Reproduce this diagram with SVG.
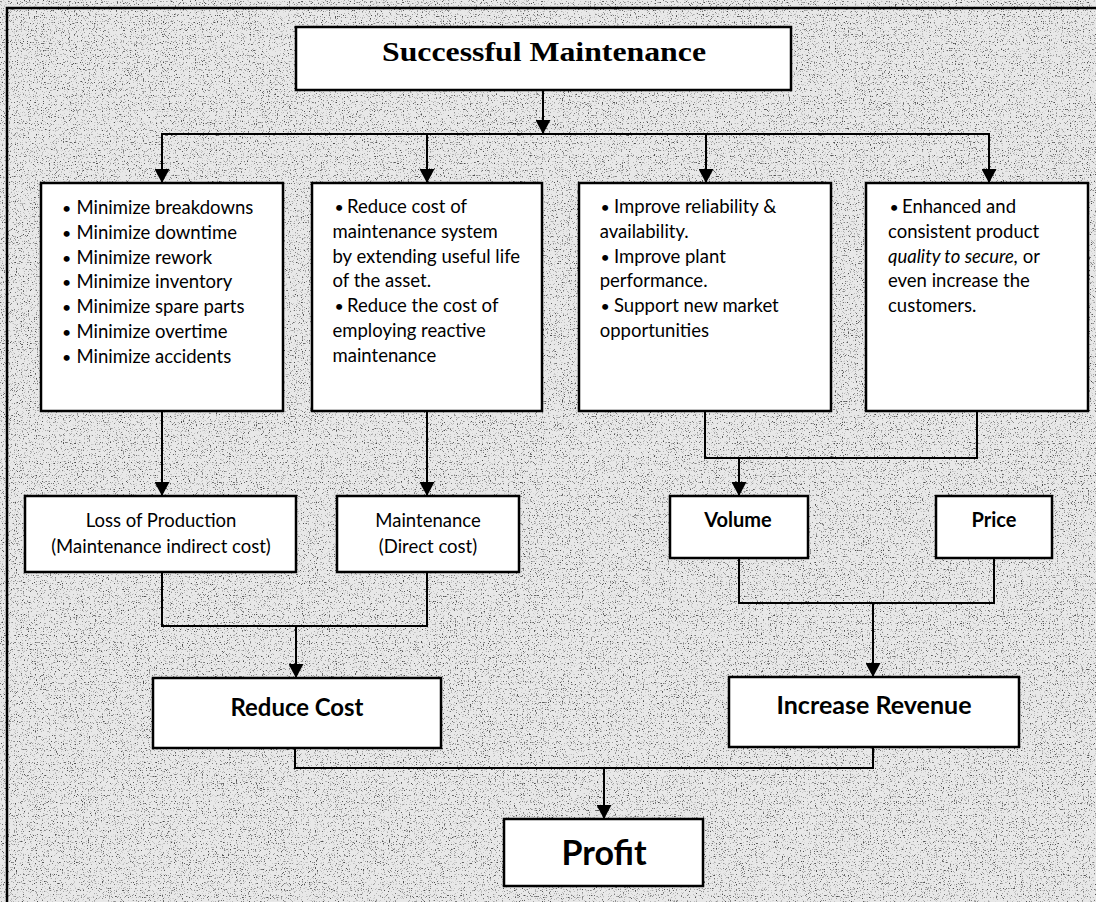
<svg xmlns="http://www.w3.org/2000/svg" width="1096" height="902" viewBox="0 0 1096 902">
  <defs>
    <!-- speckled paper texture -->
    <filter id="grain" x="0" y="0" width="1096" height="902" filterUnits="userSpaceOnUse" color-interpolation-filters="sRGB">
      <feTurbulence type="fractalNoise" baseFrequency="0.85" numOctaves="2" seed="11"/>
      <feColorMatrix type="matrix" values="0 0 0 0 0.3  0 0 0 0 0.3  0 0 0 0 0.3  5 0 0 0 -2.95"/>
    </filter>
    <marker id="arrow" viewBox="0 0 14 15" refX="14" refY="7.5" markerWidth="14" markerHeight="15" markerUnits="userSpaceOnUse" orient="auto">
      <path d="M0,0 L14,7.5 L0,15 Z" fill="#000"/>
    </marker>
    <style>
      .box { fill: #ffffff; stroke: #000000; stroke-width: 2.5; }
      .wire { fill: none; stroke: #000000; stroke-width: 2; }
      .arrow { fill: none; stroke: #000000; stroke-width: 2; marker-end: url(#arrow); }
      .t { font-family: Lato, "Liberation Sans", sans-serif; font-size: 18.5px; fill: #000000; }
      .dot { font-size: 16px; }
      .c { text-anchor: middle; }
      .b { font-weight: bold; }
      .title { font-family: "Liberation Serif", "Times New Roman", serif; font-weight: bold; font-size: 28px; text-anchor: middle; fill: #000000; }
    </style>
  </defs>

  <!-- background -->
  <rect x="0" y="0" width="1096" height="902" fill="#e8e8e8"/>
  <rect x="0" y="0" width="1096" height="902" fill="#000" filter="url(#grain)"/>

  <!-- outer frame (top and left edges) -->
  <path class="wire" d="M7,902 V8 H1096" style="stroke-width:2.5"/>

  <g id="connectors">
    <line class="arrow" x1="543" y1="90" x2="543" y2="134"/>
    <line class="wire" x1="161" y1="134" x2="990" y2="134"/>
    <line class="arrow" x1="162" y1="134" x2="162" y2="183"/>
    <line class="arrow" x1="427" y1="134" x2="427" y2="183"/>
    <line class="arrow" x1="706" y1="134" x2="706" y2="183"/>
    <line class="arrow" x1="989" y1="134" x2="989" y2="183"/>

    <line class="arrow" x1="162" y1="411" x2="162" y2="496"/>
    <line class="arrow" x1="427" y1="411" x2="427" y2="496"/>

    <path class="wire" d="M705,410 V458 H977 V410"/>
    <line class="arrow" x1="739" y1="458" x2="739" y2="496"/>

    <path class="wire" d="M162,572 V626 H427 V572"/>
    <line class="arrow" x1="296" y1="626" x2="296" y2="678"/>

    <path class="wire" d="M739,558 V603 H994 V558"/>
    <line class="arrow" x1="873" y1="603" x2="873" y2="677"/>

    <path class="wire" d="M295,748 V768 H873 V747"/>
    <line class="arrow" x1="604" y1="768" x2="604" y2="819"/>
  </g>

  <g id="successful-maintenance">
    <rect class="box" x="296" y="27" width="495" height="63"/>
    <text class="title" x="544" y="61" textLength="324" lengthAdjust="spacingAndGlyphs">Successful Maintenance</text>
  </g>

  <g id="minimize-losses">
    <rect class="box" x="41" y="183" width="242" height="228"/>
    <text class="t">
      <tspan class="dot" x="62" y="214">•</tspan><tspan x="76.5" y="214">Minimize breakdowns</tspan>
      <tspan class="dot" x="62" y="238.8">•</tspan><tspan x="76.5" y="238.8">Minimize downtime</tspan>
      <tspan class="dot" x="62" y="263.6">•</tspan><tspan x="76.5" y="263.6">Minimize rework</tspan>
      <tspan class="dot" x="62" y="288.4">•</tspan><tspan x="76.5" y="288.4">Minimize inventory</tspan>
      <tspan class="dot" x="62" y="313.2">•</tspan><tspan x="76.5" y="313.2">Minimize spare parts</tspan>
      <tspan class="dot" x="62" y="338">•</tspan><tspan x="76.5" y="338">Minimize overtime</tspan>
      <tspan class="dot" x="62" y="362.8">•</tspan><tspan x="76.5" y="362.8">Minimize accidents</tspan>
    </text>
  </g>

  <g id="reduce-maintenance-cost">
    <rect class="box" x="312" y="183" width="230" height="228"/>
    <text class="t">
      <tspan class="dot" x="334.5" y="213">•</tspan><tspan x="347" y="213">Reduce cost of</tspan>
      <tspan x="332.5" y="237.8">maintenance system</tspan>
      <tspan x="332.5" y="262.6">by extending useful life</tspan>
      <tspan x="332.5" y="287.4">of the asset.</tspan>
      <tspan class="dot" x="334.5" y="312.2">•</tspan><tspan x="347" y="312.2">Reduce the cost of</tspan>
      <tspan x="332.5" y="337">employing reactive</tspan>
      <tspan x="332.5" y="361.8">maintenance</tspan>
    </text>
  </g>

  <g id="improve-reliability">
    <rect class="box" x="579" y="183" width="252" height="228"/>
    <text class="t">
      <tspan class="dot" x="600.5" y="213">•</tspan><tspan x="614" y="213">Improve reliability &amp;</tspan>
      <tspan x="599.7" y="237.8">availability.</tspan>
      <tspan class="dot" x="600.5" y="262.6">•</tspan><tspan x="614" y="262.6">Improve plant</tspan>
      <tspan x="599.7" y="287.4">performance.</tspan>
      <tspan class="dot" x="600.5" y="312.2">•</tspan><tspan x="614" y="312.2">Support new market</tspan>
      <tspan x="599.7" y="337">opportunities</tspan>
    </text>
  </g>

  <g id="product-quality">
    <rect class="box" x="866" y="183" width="222" height="228"/>
    <text class="t">
      <tspan class="dot" x="889.5" y="213">•</tspan><tspan x="902" y="213">Enhanced and</tspan>
      <tspan x="888" y="237.8">consistent product</tspan>
      <tspan x="888" y="262.6" font-style="italic">quality to secure,</tspan><tspan> or</tspan>
      <tspan x="888" y="287.4">even increase the</tspan>
      <tspan x="888" y="312.2">customers.</tspan>
    </text>
  </g>

  <g id="loss-of-production">
    <rect class="box" x="25" y="496" width="271" height="76"/>
    <text class="t c" x="161" y="526.5">Loss of Production</text>
    <text class="t c" x="161" y="552.5">(Maintenance indirect cost)</text>
  </g>

  <g id="maintenance-direct-cost">
    <rect class="box" x="337" y="496" width="182" height="76"/>
    <text class="t c" x="428" y="526.5">Maintenance</text>
    <text class="t c" x="428" y="552.5">(Direct cost)</text>
  </g>

  <g id="volume">
    <rect class="box" x="670" y="496" width="138" height="62"/>
    <text class="t c b" x="738" y="527" style="font-size:20px">Volume</text>
  </g>

  <g id="price">
    <rect class="box" x="936" y="496" width="116" height="62"/>
    <text class="t c b" x="994" y="527" style="font-size:20px">Price</text>
  </g>

  <g id="reduce-cost">
    <rect class="box" x="153" y="678" width="288" height="70"/>
    <text class="t c b" x="297" y="715.5" style="font-size:24px" textLength="133" lengthAdjust="spacingAndGlyphs">Reduce Cost</text>
  </g>

  <g id="increase-revenue">
    <rect class="box" x="729" y="677" width="290" height="70"/>
    <text class="t c b" x="874" y="713.5" style="font-size:24.5px" textLength="195" lengthAdjust="spacingAndGlyphs">Increase Revenue</text>
  </g>

  <g id="profit">
    <rect class="box" x="504" y="819" width="199" height="67"/>
    <text class="t c b" x="604" y="865" style="font-size:34px">Profit</text>
  </g>
</svg>
